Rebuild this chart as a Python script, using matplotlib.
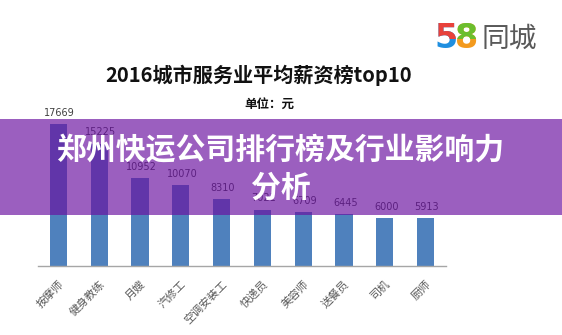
import matplotlib
matplotlib.use("Agg")
import matplotlib.pyplot as plt
from matplotlib.patches import Rectangle

plt.rcParams['font.family'] = ['Noto Sans CJK SC', 'DejaVu Sans']

categories = ["按摩师", "健身教练", "月嫂", "汽修工", "空调安装工", "快递员", "美容师", "送餐员", "司机", "厨师"]
values = [17669, 15225, 10952, 10070, 8310, 7021, 6709, 6445, 6000, 5913]

title = "2016城市服务业平均薪资榜top10"
unit = "单位：元"
overlay_line1 = "郑州快运公司排行榜及行业影响力"
overlay_line2 = "分析"

W, H = 562, 335
fig = plt.figure(figsize=(W / 100, H / 100), dpi=100)
fig.patch.set_facecolor("white")

def fx(px):
    return px / W

def fy(py):
    return 1 - py / H

ax = fig.add_axes([fx(38), fy(266), fx(446) - fx(38), (266 - 105.2) / H])
x = list(range(len(categories)))
ax.bar(x, values, width=0.42, color="#4F81BD", zorder=2)
ax.set_xlim(-0.5, len(categories) - 0.5)
ax.set_ylim(0, 20000)
for xi, v in zip(x, values):
    ax.annotate(f"{v}", (xi, v), xytext=(1, 4.5), textcoords="offset points",
                ha="center", va="bottom", fontsize=7, color="#404040",
                family="DejaVu Sans")
for s in ["top", "right", "left"]:
    ax.spines[s].set_visible(False)
ax.spines["bottom"].set_color("#A6A6A6")
ax.spines["bottom"].set_linewidth(1.0)
ax.set_yticks([])
ax.set_xticks(x)
ax.set_xticklabels(categories, rotation=45, ha="right", rotation_mode="anchor",
                   fontsize=8, color="#595959")
ax.tick_params(axis="x", length=0, pad=9)
ax.set_facecolor("none")

# Titles
fig.text(fx(259), fy(75), title, ha="center", va="center", fontsize=14.5,
         fontweight="bold", color="#111111")
fig.text(fx(269), fy(104), unit, ha="center", va="center", fontsize=9,
         fontweight="bold", color="#111111")

# Logo 58同城
def two_tone(char, xpx, top_color, bot_color):
    ypx = 39
    t1 = fig.text(fx(xpx), fy(ypx), char, ha="center", va="center", fontsize=24,
                  fontweight="bold", color=bot_color, family="DejaVu Sans")
    t2 = fig.text(fx(xpx), fy(ypx), char, ha="center", va="center", fontsize=24,
                  fontweight="bold", color=top_color, family="DejaVu Sans")
    clip = Rectangle((0, fy(ypx)), 1, 1 - fy(ypx), transform=fig.transFigure)
    t2.set_clip_path(clip)
    t2.set_clip_on(True)

two_tone("5", 446, "#E8413B", "#1F8FE0")
two_tone("8", 467, "#6BBE2E", "#F39A1E")
fig.text(fx(509), fy(39), "同城", ha="center", va="center", fontsize=20,
         color="#595959")

# Overlay band
fig.add_artist(Rectangle((0, fy(215)), 1, (215 - 119) / H, transform=fig.transFigure,
                         facecolor="#6A10A0", alpha=0.67, edgecolor="none", zorder=10))
fig.text(fx(280), fy(150), overlay_line1, ha="center", va="center", fontsize=21.5,
         fontweight="bold", color="white", zorder=11)
fig.text(fx(281), fy(188), overlay_line2, ha="center", va="center", fontsize=21.5,
         fontweight="bold", color="white", zorder=11)

fig.savefig("out.png", dpi=100)
